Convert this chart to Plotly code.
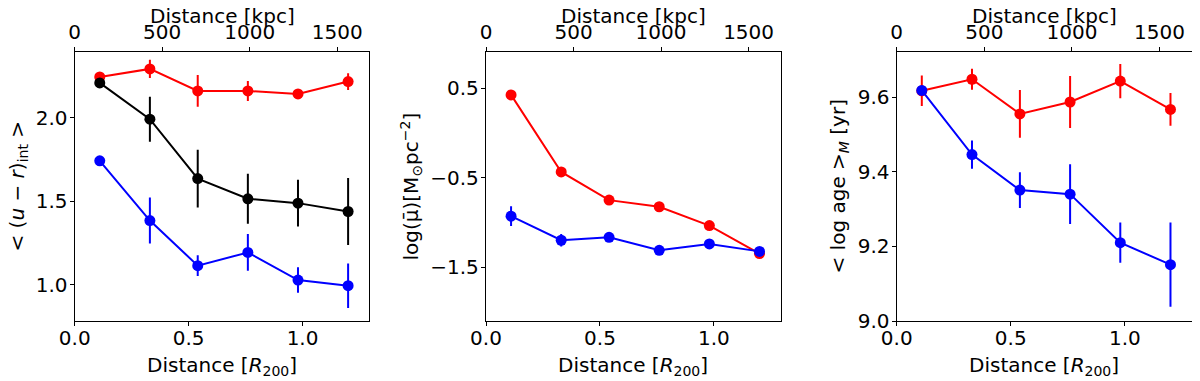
import plotly.graph_objects as go

# ---- data ----
dist_r200 = [0.11, 0.33, 0.54, 0.76, 0.98, 1.20]
R200_KPC = 1302.0

ur_red = [2.243, 2.291, 2.159, 2.159, 2.141, 2.215]
ur_red_err = [0.026, 0.055, 0.095, 0.06, 0.015, 0.05]
ur_black = [2.207, 1.990, 1.635, 1.514, 1.488, 1.438]
ur_black_err = [0.03, 0.135, 0.173, 0.15, 0.14, 0.2]
ur_blue = [1.741, 1.384, 1.114, 1.193, 1.028, 0.994]
ur_blue_err = [0.01, 0.137, 0.062, 0.11, 0.076, 0.133]

mu_red = [0.425, -0.435, -0.749, -0.823, -1.033, -1.345]
mu_red_err = [0.01, 0.02, 0.02, 0.02, 0.02, 0.02]
mu_blue = [-0.928, -1.197, -1.164, -1.309, -1.238, -1.321]
mu_blue_err = [0.11, 0.07, 0.03, 0.02, 0.02, 0.02]

age_red = [9.617, 9.648, 9.555, 9.587, 9.643, 9.567]
age_red_err = [0.041, 0.028, 0.064, 0.07, 0.046, 0.044]
age_blue = [9.618, 9.446, 9.351, 9.340, 9.210, 9.151]
age_blue_err = [0.01, 0.038, 0.048, 0.08, 0.054, 0.113]

x_ticks = [0.0, 0.5, 1.0]
kpc_ticks = [0, 500, 1000, 1500]
ur_ticks = [1.0, 1.5, 2.0]
mu_ticks = [0.5, -0.5, -1.5]
mu_ticktext = ["0.5", "\u22120.5", "\u22121.5"]
age_ticks = [9.0, 9.2, 9.4, 9.6]

bottom_title = "Distance [<i>R</i><sub>200</sub>]"
top_title = "Distance [kpc]"
y_titles = [
    "&lt; (<i>u</i> \u2212 <i>r</i>)<sub>int</sub> &gt;",
    "log(\u03bc\u0304)[M<sub>\u2299</sub>pc<sup>\u22122</sup>]",
    "&lt; log age &gt;<sub><i>M</i></sub> [yr]",
]

X_MAX = 1.293

FONT = "DejaVu Sans"
FS = 20

fig = go.Figure()


def add_series(y, err, color, xa, ya):
    fig.add_trace(go.Scatter(
        x=dist_r200, y=y, mode="lines+markers",
        line=dict(color=color, width=2),
        marker=dict(color=color, size=11),
        error_y=dict(type="data", array=err, color=color, thickness=2, width=0),
        xaxis=xa, yaxis=ya, showlegend=False, hoverinfo="skip",
    ))


def add_ghost(y, xa, ya):
    fig.add_trace(go.Scatter(
        x=[d * R200_KPC for d in dist_r200], y=y, mode="markers",
        marker=dict(size=1, opacity=0), xaxis=xa, yaxis=ya,
        showlegend=False, hoverinfo="skip",
    ))


add_series(ur_red, ur_red_err, "#ff0000", "x", "y")
add_series(ur_black, ur_black_err, "#000000", "x", "y")
add_series(ur_blue, ur_blue_err, "#0000ff", "x", "y")
add_ghost(ur_red, "x4", "y")

add_series(mu_red, mu_red_err, "#ff0000", "x2", "y2")
add_series(mu_blue, mu_blue_err, "#0000ff", "x2", "y2")
add_ghost(mu_red, "x5", "y2")

add_series(age_red, age_red_err, "#ff0000", "x3", "y3")
add_series(age_blue, age_blue_err, "#0000ff", "x3", "y3")
add_ghost(age_red, "x6", "y3")

# page body has an 8px margin: work in figure pixels = page pixels - 8
OFF = 8.0
W, H = 1192, 373
panels = [(74.7 - OFF, 369.3 - OFF), (486.0 - OFF, 780.7 - OFF), (896.7 - OFF, 1191.7 - OFF)]
PLOT_TOP, PLOT_BOT = 52.0 - OFF, 321.0 - OFF
y_dom = [(H - PLOT_BOT) / H, (H - PLOT_TOP) / H]
ytitle_x = [17.0 - OFF, 411.0 - OFF, 838.0 - OFF]
BOTTOM_TITLE_Y = 366.0 - OFF
TOP_TITLE_Y = 16.0 - OFF

tickfont = dict(family=FONT, size=FS, color="black")

common_axis = dict(showline=True, linecolor="black", linewidth=1.3, ticks="outside",
                   ticklen=4, tickwidth=1.3, tickcolor="black", showgrid=False,
                   zeroline=False, tickfont=tickfont, automargin=False)

layout = dict(width=W, height=H, margin=dict(l=0, r=0, t=0, b=0, autoexpand=False),
              paper_bgcolor="white", plot_bgcolor="white",
              font=dict(family=FONT, size=FS, color="black"))

y_specs = [
    dict(range=[0.783, 2.392], tickvals=ur_ticks, tickformat=".1f"),
    dict(range=[-2.098, 0.904], tickvals=mu_ticks, ticktext=mu_ticktext),
    dict(range=[9.0, 9.721], tickvals=age_ticks, tickformat=".1f"),
]

annotations = []
for i, (x0, x1) in enumerate(panels):
    n = "" if i == 0 else str(i + 1)
    dom = [x0 / W, x1 / W]
    layout["xaxis" + n] = dict(common_axis, domain=dom, anchor="y" + n, range=[0, X_MAX],
                               tickvals=x_ticks, tickformat=".1f", mirror=False,
                               ticklabelstandoff=-5)
    layout["xaxis" + str(i + 4)] = dict(common_axis, domain=dom, anchor="y" + n,
                                        overlaying="x" + n, side="top",
                                        range=[0, X_MAX * R200_KPC], tickvals=kpc_ticks)
    layout["yaxis" + n] = dict(common_axis, domain=y_dom, anchor="x" + n, mirror=True,
                               ticklabelstandoff=-2, **y_specs[i])
    cx = (x0 + x1) / 2 / W
    annotations.append(dict(text=bottom_title, x=cx, y=(H - BOTTOM_TITLE_Y) / H,
                            xref="paper", yref="paper", xanchor="center", yanchor="middle",
                            showarrow=False, font=dict(family=FONT, size=FS, color="black")))
    annotations.append(dict(text=top_title, x=cx, y=(H - TOP_TITLE_Y) / H,
                            xref="paper", yref="paper", xanchor="center", yanchor="middle",
                            showarrow=False, font=dict(family=FONT, size=FS, color="black")))
    annotations.append(dict(text=y_titles[i], x=ytitle_x[i] / W,
                            y=(H - (PLOT_TOP + PLOT_BOT) / 2) / H,
                            xref="paper", yref="paper", xanchor="center", yanchor="middle",
                            textangle=-90, showarrow=False,
                            font=dict(family=FONT, size=FS, color="black")))

layout["annotations"] = annotations
fig.update_layout(**layout)
fig.write_html("out.html")
